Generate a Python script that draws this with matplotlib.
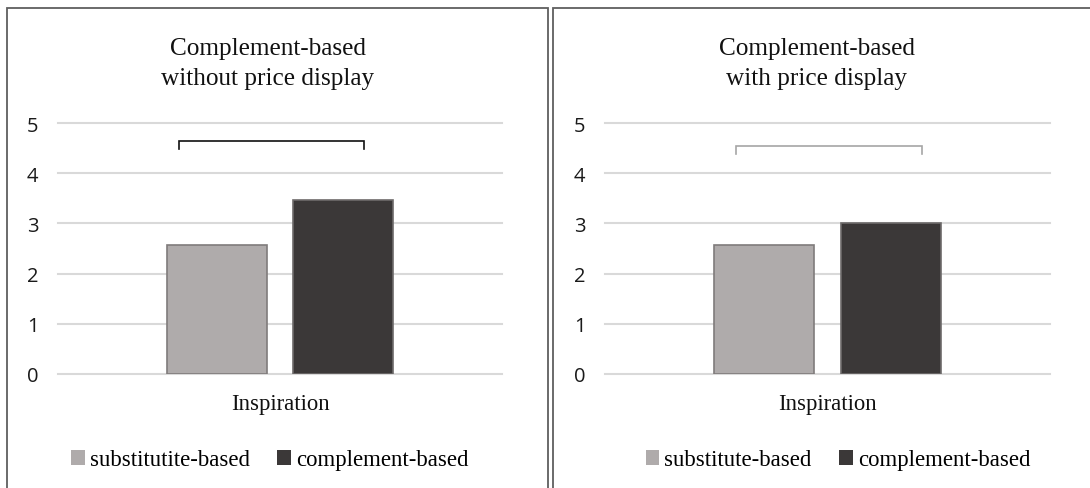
import matplotlib
matplotlib.use("Agg")
import matplotlib.pyplot as plt
from matplotlib.patches import Rectangle, Patch

# ---- data ----
category = "Inspiration"
titles = ["Complement-based\nwithout price display",
          "Complement-based\nwith price display"]
legend_labels = [["substitutite-based", "complement-based"],
                 ["substitute-based", "complement-based"]]
substitute_vals = [2.56, 2.56]
complement_vals = [3.46, 3.00]
yticks = [0, 1, 2, 3, 4, 5]

# ---- styling ----
W, H = 1090, 489
DPI = 100
SERIF = "Liberation Serif"
SANS = "Open Sans"
sub_fill, sub_edge = "#AFABAB", "#7F7B7B"
comp_fill, comp_edge = "#3B3838", "#6E6B6B"
grid_col = "#D9D9D9"
frame_col = "#5F5F5F"

fig = plt.figure(figsize=(W / DPI, H / DPI), dpi=DPI)
fig.patch.set_facecolor("white")

def px_rect(x0, y0, x1, y1):
    """Convert a pixel box (top-left origin) into figure fractions."""
    return [x0 / W, 1 - y1 / H, (x1 - x0) / W, (y1 - y0) / H]

# panel frames (bottom edge runs off the image)
for fx0, fx1 in [(7, 548), (553, 1096)]:
    fig.patches.append(Rectangle((fx0 / W, (1 - 500 / H)), (fx1 - fx0) / W,
                                 (500 - 9) / H, transform=fig.transFigure,
                                 fill=False, edgecolor=frame_col, lw=1.3))

axes_px = [(58, 124, 502, 375), (605, 124, 1050, 375)]
title_x = [268, 817]
legend_x = [270, 838]
bracket_span = [(0.2725, 0.689), (0.295, 0.713)]   # axes-fraction x
bracket_y = [(4.64, 4.48), (4.54, 4.38)]
bracket_col = ["#111111", "#A6A6A6"]

bar_w = 0.225
offset = 0.142

for i in range(2):
    ax = fig.add_axes(px_rect(*axes_px[i]))
    ax.set_xlim(-0.5, 0.5)
    ax.set_ylim(0, 5)
    ax.bar([-offset], [substitute_vals[i]], width=bar_w, color=sub_fill,
           edgecolor=sub_edge, lw=1.2, zorder=3)
    ax.bar([offset], [complement_vals[i]], width=bar_w, color=comp_fill,
           edgecolor=comp_edge, lw=1.2, zorder=3)
    for s in ax.spines.values():
        s.set_visible(False)
    ax.set_yticks(yticks)
    ax.set_yticklabels([str(t) for t in yticks], fontsize=14.5, family=SANS,
                       color="#1A1A1A")
    ax.tick_params(axis="y", length=0, pad=14)
    ax.set_xticks([0])
    ax.set_xticklabels([category], fontsize=16.4, family=SERIF,
                       color="#111111")
    ax.tick_params(axis="x", length=0, pad=14)
    ax.yaxis.grid(True, color=grid_col, lw=1.5, zorder=0)
    for gl in ax.get_ygridlines():
        gl.set_clip_on(False)

    # significance bracket
    bx0, bx1 = bracket_span[i]
    top, leg = bracket_y[i]
    xs = [-0.5 + bx0, -0.5 + bx0, -0.5 + bx1, -0.5 + bx1]
    ax.plot(xs, [leg, top, top, leg], color=bracket_col[i], lw=1.2,
            solid_joinstyle="miter", zorder=4)

    fig.text(title_x[i] / W, 1 - 64 / H, titles[i], ha="center", va="center",
             fontsize=18.2, family=SERIF, linespacing=1.42, color="#111111")

    handles = [Patch(facecolor=sub_fill, edgecolor="none"),
               Patch(facecolor=comp_fill, edgecolor="none")]
    fig.legend(handles, legend_labels[i], loc="center",
               bbox_to_anchor=(legend_x[i] / W, 1 - 461 / H), ncol=2,
               frameon=False, prop={"family": SERIF, "size": 16.4},
               handlelength=0.6, handleheight=0.6, handletextpad=0.22,
               columnspacing=1.2, borderpad=0, borderaxespad=0)

fig.savefig("out.png", dpi=DPI, facecolor="white")
